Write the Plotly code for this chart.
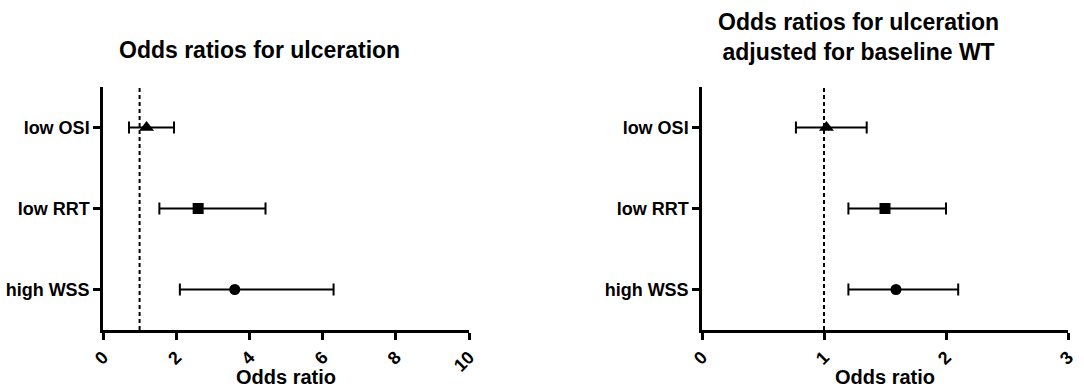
import plotly.graph_objects as go

categories = ["high WSS", "low RRT", "low OSI"]
symbols = ["circle", "square", "triangle-up"]
marker_sizes = [11, 11, 13]

# Panel 1: unadjusted
or1 = [3.6, 2.6, 1.19]
lo1 = [2.1, 1.54, 0.71]
hi1 = [6.3, 4.44, 1.94]

# Panel 2: adjusted for baseline WT
or2 = [1.59, 1.5, 1.02]
lo2 = [1.2, 1.2, 0.77]
hi2 = [2.1, 2.0, 1.35]

x1_ticks = [0, 2, 4, 6, 8, 10]
x2_ticks = [0, 1, 2, 3]

FONT = "Liberation Sans, Arial, sans-serif"
fig = go.Figure()

for (orv, lo, hi, xa, ya) in [(or1, lo1, hi1, "x", "y"), (or2, lo2, hi2, "x2", "y2")]:
    # reference line at OR = 1
    fig.add_trace(go.Scatter(
        x=[1, 1], y=[-0.5, 2.5], mode="lines", xaxis=xa, yaxis=ya,
        line=dict(color="black", width=2, dash="4px,3px"),
        showlegend=False, hoverinfo="skip"))
    for i, cat in enumerate(categories):
        fig.add_trace(go.Scatter(
            x=[orv[i]], y=[i], mode="markers", xaxis=xa, yaxis=ya,
            marker=dict(symbol=symbols[i], size=marker_sizes[i], color="black"),
            error_x=dict(type="data", symmetric=False,
                         array=[hi[i] - orv[i]], arrayminus=[orv[i] - lo[i]],
                         color="black", thickness=2, width=6),
            showlegend=False, hoverinfo="skip"))

ydom = [1 - 330 / 388, 1 - 87 / 388]
axis_common = dict(showgrid=False, zeroline=False, showline=True, linecolor="black",
                   linewidth=2.5, ticks="outside", tickwidth=2.5, ticklen=7, tickcolor="black",
                   tickfont=dict(family=FONT, size=18, color="black", weight="bold"),
                   automargin=False, fixedrange=True)
ytickfont = dict(family=FONT, size=18, color="black", weight="bold")

fig.update_layout(
    width=1084, height=388,
    margin=dict(l=0, r=0, t=0, b=0),
    paper_bgcolor="white", plot_bgcolor="white",
    xaxis=dict(domain=[103 / 1084, 469 / 1084], range=[0, 10], tickvals=x1_ticks,
               ticktext=[str(v) for v in x1_ticks], tickangle=-45, anchor="y", **axis_common),
    yaxis=dict(domain=ydom, range=[-0.5, 2.5], tickvals=[0, 1, 2], ticktext=categories,
               anchor="x", **{**axis_common, "tickfont": ytickfont}),
    xaxis2=dict(domain=[702 / 1084, 1068 / 1084], range=[0, 3], tickvals=x2_ticks,
                ticktext=[str(v) for v in x2_ticks], tickangle=-45, anchor="y2", **axis_common),
    yaxis2=dict(domain=ydom, range=[-0.5, 2.5], tickvals=[0, 1, 2], ticktext=categories,
                anchor="x2", **{**axis_common, "tickfont": ytickfont}),
    annotations=[
        dict(text="<b>Odds ratios for ulceration</b>", x=259 / 1084, y=1 - 50 / 388,
             xref="paper", yref="paper", showarrow=False, xanchor="center", yanchor="middle",
             font=dict(family=FONT, size=23, color="black")),
        dict(text="<b>Odds ratios for ulceration<br>adjusted for baseline WT</b>", x=858 / 1084,
             y=1 - 37 / 388, xref="paper", yref="paper", showarrow=False, xanchor="center",
             yanchor="middle", font=dict(family=FONT, size=23, color="black")),
        dict(text="<b>Odds ratio</b>", x=286 / 1084, y=1 - 377 / 388, xref="paper", yref="paper",
             showarrow=False, xanchor="center", yanchor="middle",
             font=dict(family=FONT, size=20, color="black")),
        dict(text="<b>Odds ratio</b>", x=885 / 1084, y=1 - 377 / 388, xref="paper", yref="paper",
             showarrow=False, xanchor="center", yanchor="middle",
             font=dict(family=FONT, size=20, color="black")),
    ],
)

fig.write_html("out.html", config={"displayModeBar": False},
               post_script="document.body.style.margin='0px';document.body.style.overflow='hidden';")
